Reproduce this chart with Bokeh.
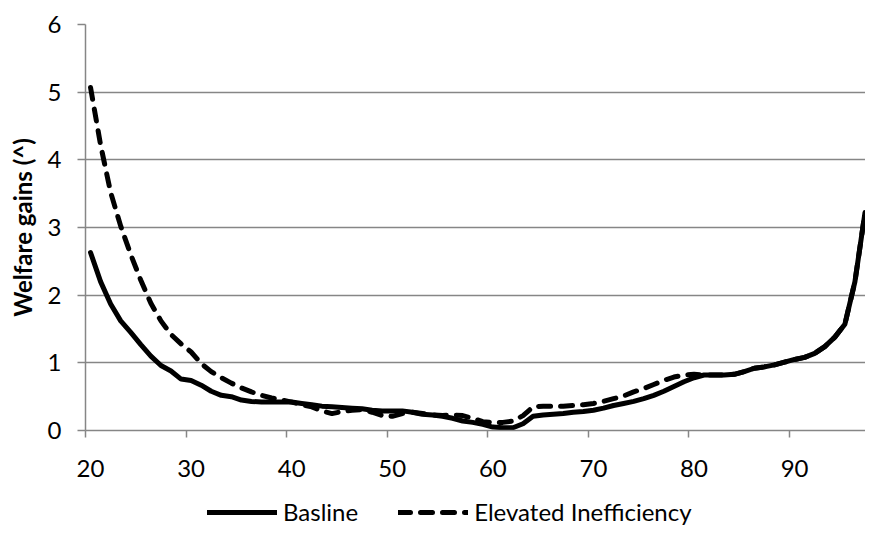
from bokeh.plotting import figure
from bokeh.models import Range1d, FixedTicker, Legend, LegendItem
from bokeh.layouts import column
from bokeh.embed import file_html
from bokeh.resources import INLINE

ages = list(range(20, 98))

baseline = [
    2.63, 2.20, 1.87, 1.62, 1.45, 1.27, 1.10, 0.96, 0.88, 0.76,  # 20-29
    0.74, 0.67, 0.58, 0.52, 0.50, 0.45, 0.43, 0.42, 0.42, 0.42,  # 30-39
    0.42, 0.40, 0.38, 0.36, 0.35, 0.34, 0.33, 0.32, 0.30, 0.29,  # 40-49
    0.29, 0.29, 0.27, 0.24, 0.23, 0.21, 0.18, 0.14, 0.12, 0.09,  # 50-59
    0.05, 0.04, 0.04, 0.10, 0.21, 0.23, 0.24, 0.25, 0.27, 0.28,  # 60-69
    0.30, 0.33, 0.37, 0.40, 0.43, 0.47, 0.52, 0.58, 0.65, 0.72,  # 70-79
    0.78, 0.82, 0.82, 0.82, 0.83, 0.87, 0.92, 0.94, 0.97, 1.01,  # 80-89
    1.05, 1.08, 1.14, 1.24, 1.38, 1.57, 2.20, 3.22,              # 90-97
]

elevated = [
    5.07, 4.22, 3.52, 3.02, 2.60, 2.22, 1.88, 1.62, 1.42, 1.28,  # 20-29
    1.16, 0.99, 0.87, 0.78, 0.70, 0.63, 0.57, 0.52, 0.48, 0.45,  # 30-39
    0.42, 0.38, 0.35, 0.29, 0.25, 0.28, 0.30, 0.31, 0.27, 0.22,  # 40-49
    0.21, 0.25, 0.27, 0.25, 0.23, 0.22, 0.23, 0.22, 0.18, 0.13,  # 50-59
    0.12, 0.12, 0.14, 0.22, 0.35, 0.36, 0.36, 0.36, 0.37, 0.38,  # 60-69
    0.40, 0.43, 0.47, 0.51, 0.57, 0.62, 0.68, 0.74, 0.79, 0.82,  # 70-79
    0.83, 0.82, 0.82, 0.82, 0.83, 0.87, 0.92, 0.94, 0.97, 1.01,  # 80-89
    1.05, 1.08, 1.14, 1.24, 1.38, 1.57, 2.20, 3.22,              # 90-97
]

x_labels = [20, 30, 40, 50, 60, 70, 80, 90]
y_ticks = [0, 1, 2, 3, 4, 5, 6]
series_names = ["Basline", "Elevated Inefficiency"]
y_title = "Welfare gains (^)"

FONT = "Lato"
FS = "24px"
GRAY = "#868686"
LW = 5
DASH = "12 10"

p = figure(width=865, height=484, x_range=Range1d(19.5, 97.05), y_range=Range1d(0, 6),
           output_backend="svg", toolbar_location=None,
           min_border_left=85, min_border_top=24, min_border_right=0, min_border_bottom=54)
p.outline_line_color = None

p.line(ages, baseline, line_color="black", line_width=LW, line_join="round", line_cap="round")
p.line(ages, elevated, line_color="black", line_width=LW, line_dash=DASH,
       line_join="round", line_cap="round")

# x axis: labels at category centres, tick marks at category boundaries
p.xaxis.ticker = FixedTicker(ticks=x_labels, minor_ticks=[v - 0.5 for v in x_labels])
p.xaxis.major_tick_out = 0
p.xaxis.major_tick_in = 0
p.xaxis.minor_tick_out = 7
p.xaxis.minor_tick_in = 0
p.xaxis.minor_tick_line_color = GRAY
p.xaxis.minor_tick_line_width = 1.5
p.xaxis.axis_line_color = GRAY
p.xaxis.axis_line_width = 1.5
p.xaxis.major_label_standoff = 22
p.xgrid.grid_line_color = None

p.yaxis.ticker = FixedTicker(ticks=y_ticks)
p.yaxis.major_tick_out = 8
p.yaxis.major_tick_in = 0
p.yaxis.minor_tick_out = 0
p.yaxis.minor_tick_in = 0
p.yaxis.major_tick_line_color = GRAY
p.yaxis.major_tick_line_width = 1.5
p.yaxis.axis_line_color = GRAY
p.yaxis.axis_line_width = 1.5
p.yaxis.major_label_standoff = 16
p.yaxis.axis_label = y_title
p.yaxis.axis_label_text_font_style = "bold"
p.yaxis.axis_label_standoff = 8
p.ygrid.grid_line_color = GRAY
p.ygrid.grid_line_width = 1.5
p.ygrid.ticker = FixedTicker(ticks=y_ticks)

for ax in (p.xaxis, p.yaxis):
    ax.major_label_text_font = FONT
    ax.major_label_text_font_size = FS
    ax.major_label_text_color = "black"
    ax.axis_label_text_font = FONT
    ax.axis_label_text_font_size = FS
    ax.axis_label_text_color = "black"

# legend strip below the chart (its key lines lie outside its own view)
leg = figure(width=865, height=42, x_range=Range1d(0, 1), y_range=Range1d(0, 1),
             output_backend="svg", toolbar_location=None,
             x_axis_location=None, y_axis_location=None, min_border=0)
leg.grid.visible = False
leg.outline_line_color = None
k1 = leg.line(ages[:2], baseline[:2], line_color="black", line_width=LW, line_cap="round")
k2 = leg.line(ages[:2], elevated[:2], line_color="black", line_width=LW, line_dash=DASH,
              line_cap="round")

legend = Legend(items=[LegendItem(label=series_names[0], renderers=[k1]),
                       LegendItem(label=series_names[1], renderers=[k2])],
                orientation="horizontal", location=(122, 0),
                glyph_width=70, glyph_height=24, label_height=24, label_standoff=6, spacing=40,
                label_text_font=FONT, label_text_font_size=FS, label_text_color="black",
                border_line_color=None, background_fill_alpha=0, margin=0, padding=0)
leg.add_layout(legend, "center")

open("out.html", "w").write(file_html(column(p, leg, spacing=0), INLINE))
